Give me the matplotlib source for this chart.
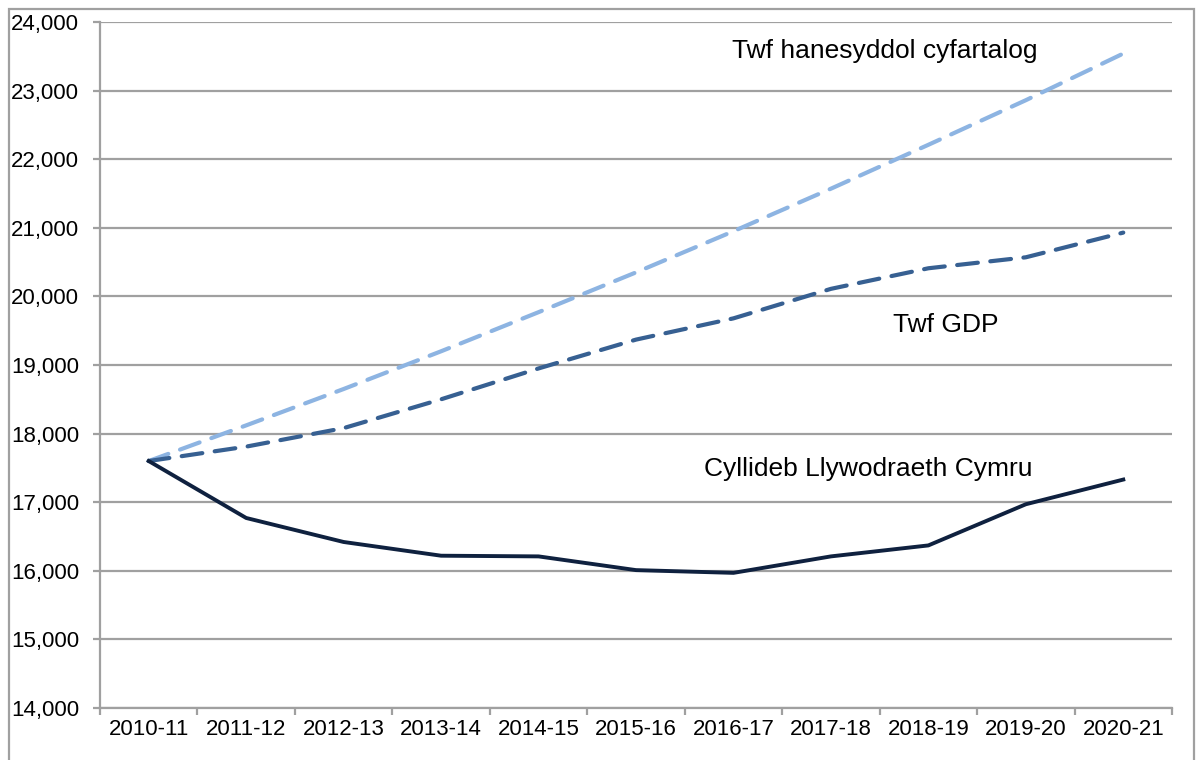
import matplotlib.pyplot as plt
from matplotlib.patches import Rectangle

plt.rcParams['font.family'] = ['Liberation Sans', 'DejaVu Sans']

# Blynyddoedd ariannol
years = ["2010-11", "2011-12", "2012-13", "2013-14", "2014-15", "2015-16",
         "2016-17", "2017-18", "2018-19", "2019-20", "2020-21"]

# Cyllideb Llywodraeth Cymru (£m)
cyllideb = [17600, 16770, 16420, 16220, 16210, 16010, 15970, 16210, 16370, 16970, 17330]
# Twf GDP
twf_gdp = [17600, 17810, 18080, 18500, 18950, 19370, 19680, 20110, 20410, 20570, 20930]
# Twf hanesyddol cyfartalog
twf_hanes = [17600, 18120, 18650, 19200, 19770, 20350, 20950, 21570, 22210, 22860, 23540]

y_ticks = list(range(14000, 24001, 1000))

fig = plt.figure(figsize=(12.01, 7.6), dpi=100)
ax = fig.add_axes([100 / 1201, 1 - 708 / 760, 1072 / 1201, 686 / 760])

x = list(range(len(years)))

ax.plot(x, twf_hanes, color="#8db4e2", lw=3.0, dashes=(5, 3), dash_capstyle="round")
ax.plot(x, twf_gdp, color="#376092", lw=3.0, dashes=(5, 3), dash_capstyle="round")
ax.plot(x, cyllideb, color="#0f213f", lw=2.8, solid_joinstyle="round")

ax.set_xlim(-0.5, len(years) - 0.5)
ax.set_ylim(14000, 24000)
ax.set_yticks(y_ticks)
ax.set_yticklabels([f"{v:,}" for v in y_ticks])
ax.set_xticks(x)
ax.set_xticklabels(years)
ax.set_xticks([i - 0.5 for i in range(len(years) + 1)], minor=True)

ax.grid(axis="y", color="#a0a0a0", lw=1.6)
ax.set_axisbelow(True)
for s in ["top", "right"]:
    ax.spines[s].set_visible(False)
for s in ["left", "bottom"]:
    ax.spines[s].set_color("#a0a0a0")
    ax.spines[s].set_linewidth(1.6)

ax.tick_params(axis="y", length=5, width=1.6, color="#a0a0a0", labelsize=16, pad=10)
ax.tick_params(axis="x", which="major", length=0, labelsize=16, pad=8)
ax.tick_params(axis="x", which="minor", length=5, width=1.6, color="#a0a0a0")

# Labeli'r llinellau
ax.text(5.99, 23570, "Twf hanesyddol cyfartalog", fontsize=19, va="center", ha="left")
ax.text(7.64, 19590, "Twf GDP", fontsize=19, va="center", ha="left")
ax.text(5.70, 17480, "Cyllideb Llywodraeth Cymru", fontsize=19, va="center", ha="left")

# Ffrâm o amgylch y siart
fig.patches.append(Rectangle((9 / 1201, -0.02), 1185 / 1201, 1.02 - 9 / 760,
                             transform=fig.transFigure, fill=False,
                             edgecolor="#a0a0a0", lw=1.6))

fig.savefig("out.png", dpi=100)
